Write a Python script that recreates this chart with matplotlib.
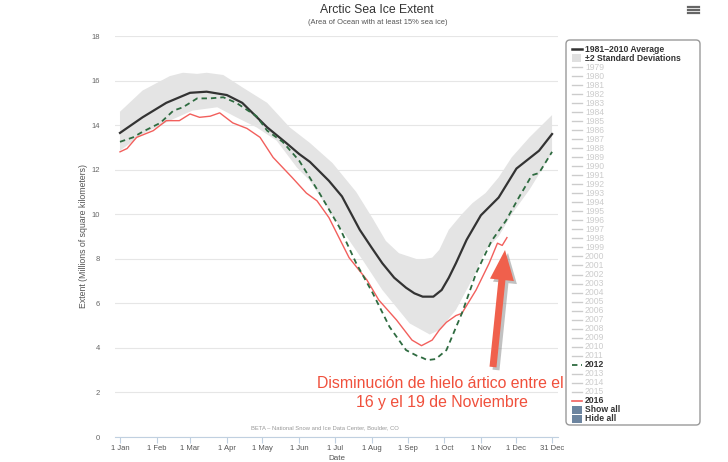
import matplotlib
matplotlib.use("Agg")
import matplotlib.pyplot as plt
from matplotlib.patches import FancyArrow, FancyBboxPatch, Rectangle
from matplotlib.lines import Line2D
from matplotlib.transforms import IdentityTransform

plt.rcParams['font.family'] = ['Liberation Sans', 'DejaVu Sans']

# datos (dia del anio, millones de km2)
avg_days = [0, 19, 39, 59, 73, 90, 103, 124, 140, 151, 160, 176, 187, 202, 212, 221, 231, 241, 248, 255, 264, 271, 277, 283, 292, 304, 319, 334, 353, 364]
avg_vals = [13.65, 14.35, 15.0, 15.45, 15.5, 15.35, 15.0, 13.9, 13.2, 12.7, 12.35, 11.5, 10.8, 9.3, 8.5, 7.8, 7.15, 6.7, 6.45, 6.3, 6.3, 6.6, 7.15, 7.8, 8.85, 9.95, 10.75, 12.05, 12.85, 13.6]

up_days = [0, 19, 42, 53, 65, 73, 87, 103, 124, 143, 160, 179, 199, 213, 224, 235, 252, 263, 269, 277, 288, 297, 308, 319, 330, 345, 364]
up_vals = [14.6, 15.55, 16.2, 16.35, 16.3, 16.35, 16.25, 15.7, 15.0, 13.9, 13.2, 12.3, 11.0, 9.8, 8.8, 8.25, 7.95, 8.05, 8.4, 9.3, 10.0, 10.5, 10.95, 11.65, 12.55, 13.45, 14.45]

low_days = [0, 19, 42, 61, 82, 98, 115, 132, 149, 160, 187, 205, 221, 244, 261, 269, 283, 298, 308, 319, 330, 345, 364]
low_vals = [12.85, 13.6, 14.2, 14.65, 14.8, 14.35, 13.9, 13.3, 12.1, 11.5, 9.3, 7.9, 6.6, 5.1, 4.6, 4.8, 5.7, 7.2, 8.4, 9.0, 10.0, 11.1, 12.75]

y2012_days = [0, 11, 19, 34, 45, 53, 65, 76, 87, 98, 115, 124, 137, 151, 168, 185, 199, 213, 227, 241, 250, 255, 259, 266, 275, 288, 300, 313, 325, 336, 347, 353, 364]
y2012_vals = [13.25, 13.45, 13.7, 14.1, 14.65, 14.8, 15.2, 15.2, 15.25, 15.0, 14.4, 13.75, 13.25, 12.4, 10.95, 9.4, 7.8, 6.45, 4.95, 3.9, 3.65, 3.55, 3.45, 3.5, 3.9, 5.55, 7.35, 8.8, 9.7, 10.75, 11.75, 11.85, 12.8]

y2016_days = [0, 6, 14, 28, 39, 50, 59, 67, 76, 84, 95, 107, 118, 129, 145, 157, 166, 176, 193, 208, 218, 233, 246, 254, 263, 269, 275, 283, 288, 300, 311, 318, 322, 326]
y2016_vals = [12.8, 12.95, 13.45, 13.75, 14.2, 14.2, 14.5, 14.35, 14.4, 14.55, 14.1, 13.85, 13.45, 12.55, 11.65, 10.95, 10.6, 9.85, 8.05, 7.05, 6.15, 5.25, 4.35, 4.1, 4.35, 4.8, 5.15, 5.45, 5.55, 6.6, 7.8, 8.7, 8.6, 8.95]

month_days = [0, 31, 59, 90, 120, 151, 181, 212, 243, 273, 304, 334, 364]
month_labels = ["1 Jan", "1 Feb", "1 Mar", "1 Apr", "1 May", "1 Jun", "1 Jul",
                "1 Aug", "1 Sep", "1 Oct", "1 Nov", "1 Dec", "31 Dec"]
years = list(range(1979, 2017))

W, H = 728, 462
fig = plt.figure(figsize=(W / 100, H / 100), dpi=100)


def fx(x):
    return x / W


def fy(y):
    return 1 - y / H


ax = fig.add_axes([fx(115), fy(437), (558 - 115) / W, (437 - 36) / H])
ax.set_xlim(-4.2, 369)
ax.set_ylim(0, 18)

# banda y series
ax.fill(up_days + low_days[::-1], up_vals + low_vals[::-1], color="#e4e4e4", lw=0, zorder=1)
ax.plot(avg_days, avg_vals, color="#333333", lw=1.6, zorder=3, solid_joinstyle="round")
ax.plot(y2016_days, y2016_vals, color="#f25f5c", lw=1.0, zorder=4)
ax.plot(y2012_days, y2012_vals, color="#2e6b40", lw=1.3, dashes=(3, 2.2), zorder=5)

ax.set_yticks(range(0, 19, 2))
ax.grid(axis="y", color="#e6e6e6", lw=0.8, zorder=0)
ax.set_axisbelow(True)
ax.set_xticks(month_days)
ax.set_xticklabels(month_labels)
ax.tick_params(axis="x", length=4, color="#c0d0e0", labelsize=5.5, labelcolor="#555555", pad=2)
ax.tick_params(axis="y", length=0, labelsize=5.5, labelcolor="#666666", pad=11)
for s in ["top", "right", "left"]:
    ax.spines[s].set_visible(False)
ax.spines["bottom"].set_color("#c0d0e0")
ax.spines["bottom"].set_linewidth(0.8)
ax.set_ylabel("Extent (Millions of square kilometers)", fontsize=6.3, color="#555555", labelpad=2)
fig.text(fx(337), fy(458), "Date", ha="center", va="center", fontsize=5.8, color="#555555")

fig.text(fx(377), fy(10), "Arctic Sea Ice Extent", ha="center", va="center", fontsize=8.8, color="#333333")
fig.text(fx(378), fy(23), "(Area of Ocean with at least 15% sea ice)", ha="center", va="center", fontsize=5.4, color="#555555")
fig.text(fx(325), fy(428), "BETA \u2013 National Snow and Ice Data Center, Boulder, CO", ha="center", va="center", fontsize=4.2, color="#999999")

# menu
idt = IdentityTransform()
for yy in (7, 10, 13):
    fig.add_artist(Line2D([688, 699], [H - yy, H - yy], color="#666666", lw=1.6, transform=idt))

# leyenda
fig.add_artist(FancyBboxPatch((566, H - 425), 134, 385, boxstyle="round,pad=0,rounding_size=4",
                              ec="#9a9a9a", fc="white", lw=1, transform=idt, zorder=6))
items = [("1981\u20132010 Average", "avg"), ("\u00b12 Standard Deviations", "sd")]
items += [(str(y), str(y)) for y in years]
items += [("Show all", "btn"), ("Hide all", "btn")]
for i, (lab, kind) in enumerate(items):
    yc = H - (49 + 9.02 * i)
    bold = kind in ("avg", "sd", "2012", "2016", "btn")
    tcol = "#333333" if bold else "#cccccc"
    if kind == "avg":
        fig.add_artist(Line2D([572, 582], [yc, yc], color="#333333", lw=1.8, transform=idt, zorder=7))
    elif kind == "sd":
        fig.add_artist(Rectangle((572, yc - 4), 9, 8, fc="#e0e0e0", ec="none", transform=idt, zorder=7))
    elif kind == "btn":
        fig.add_artist(Rectangle((572, yc - 4), 10, 8, fc="#6c849f", ec="none", transform=idt, zorder=7))
    elif kind == "2012":
        fig.add_artist(Line2D([572, 582], [yc, yc], color="#2e6b40", lw=1.3, dashes=(3, 2), transform=idt, zorder=7))
    elif kind == "2016":
        fig.add_artist(Line2D([572, 582], [yc, yc], color="#f25f5c", lw=1.2, transform=idt, zorder=7))
    else:
        fig.add_artist(Line2D([572, 582], [yc, yc], color="#cccccc", lw=1.0, transform=idt, zorder=7))
    fig.text(585, yc, lab, transform=idt, ha="left", va="center", fontsize=6.2,
             fontweight="bold" if bold else "normal", color=tcol, zorder=8)

# flecha y anotacion
fig.add_artist(FancyArrow(496, H - 370, 12, 117, width=7, head_width=24, head_length=30,
                          length_includes_head=True, fc="#777777", ec="none", alpha=0.45,
                          transform=idt, zorder=9))
fig.add_artist(FancyArrow(493, H - 367, 12, 117, width=7, head_width=24, head_length=30,
                          length_includes_head=True, fc="#f0604c", ec="none",
                          transform=idt, zorder=10))
fig.text(fx(440), fy(383), "Disminuci\u00f3n de hielo \u00e1rtico entre el", ha="center", va="center",
         fontsize=11.4, color="#f0503c", zorder=11)
fig.text(fx(442), fy(402), "16 y el 19 de Noviembre", ha="center", va="center",
         fontsize=11.4, color="#f0503c", zorder=11)

fig.savefig("out.png", dpi=100)
